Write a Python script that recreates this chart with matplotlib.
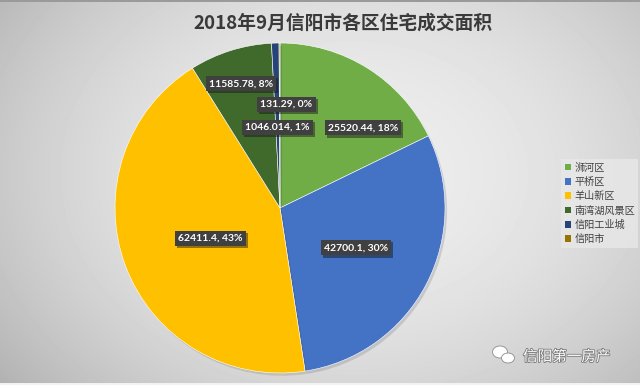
import matplotlib.pyplot as plt
import matplotlib.patheffects as pe
from matplotlib.patches import Patch, Ellipse, Rectangle
import numpy as np

plt.rcParams['font.family'] = ['Noto Sans CJK SC', 'DejaVu Sans']

# data
districts = ['浉河区', '平桥区', '羊山新区', '南湾湖风景区', '信阳工业城', '信阳市']
areas = [25520.44, 42700.1, 62411.4, 11585.78, 1046.014, 131.29]
colors = ['#70AD47', '#4472C4', '#FFC000', '#3F6A2C', '#264478', '#997300']
title = '2018年9月信阳市各区住宅成交面积'

# label placement: radius and angle shift from the wedge middle
label_r = [0.70, 0.52, 0.46, 0.79, 0.49, 0.63]
label_shift = [-14, 0, 3, 0, 0, -3.7]


def round_percent(vals):
    # Excel style: whole percents that add up to 100
    raw = np.array(vals) / sum(vals) * 100
    out = np.floor(raw).astype(int)
    rest = raw - out
    for i in np.argsort(-rest)[:100 - out.sum()]:
        out[i] += 1
    return out


W, H = 640, 385
fig = plt.figure(figsize=(W / 100, H / 100), dpi=100)

# background gradient
bg = fig.add_axes([0, 0, 1, 1])
yy, xx = np.mgrid[0:H, 0:W]
d = ((xx - W * 0.55) / (W * 0.6)) ** 2 + ((yy - H * 0.45) / (H * 0.75)) ** 2
shade = np.clip(0.93 - 0.17 * d, 0, 1)
bg.imshow(shade, cmap='gray', vmin=0, vmax=1, extent=(0, W, H, 0), aspect='auto')
bg.set_xlim(0, W)
bg.set_ylim(H, 0)
bg.axis('off')
bg.add_patch(Rectangle((0, 0), W, 1.5, color='#9a9a9a', lw=0))
bg.add_patch(Rectangle((0, 383), W, 2, color='#f2f2f2', lw=0))

# wechat style signature, bottom right
for (cx, cy, w, h) in [(500, 352, 15, 12), (508, 358, 13, 10)]:
    bg.add_patch(Ellipse((cx, cy), w, h, fc='white', ec='#8c8c8c', lw=0.6))
bg.text(523, 357, '信阳第一房产', fontsize=10.5, color='white', va='center',
        path_effects=[pe.withStroke(linewidth=1.2, foreground='#7a7a7a')])

# pie
cx, cy, R = 280, 208, 165
ax = fig.add_axes([(cx - R) / W, (H - cy - R) / H, 2 * R / W, 2 * R / H])
wedges, _ = ax.pie(areas, colors=colors, startangle=90, counterclock=False,
                   radius=1, wedgeprops=dict(edgecolor='white', linewidth=0.4))
for w in wedges:
    w.set_path_effects([pe.SimplePatchShadow(offset=(1.5, -2), alpha=0.15),
                        pe.Normal()])
ax.set_xlim(-1, 1)
ax.set_ylim(-1, 1)

pcts = round_percent(areas)
for w, v, p, r, s in zip(wedges, areas, pcts, label_r, label_shift):
    mid = np.deg2rad((w.theta1 + w.theta2) / 2 + s)
    t = ax.text(r * np.cos(mid), r * np.sin(mid), f'{v}, {p}%',
                ha='center', va='center', fontsize=7.5, fontweight='bold',
                family='Lato', color='white', zorder=5,
                bbox=dict(boxstyle='square,pad=0.3', fc='#404040', ec='none'))
    t.get_bbox_patch().set_path_effects(
        [pe.SimplePatchShadow(offset=(1.5, -1.5), alpha=0.45), pe.Normal()])

fig.text(343 / W, 1 - 23 / H, title, ha='center', va='center',
         fontsize=13.5, fontweight='bold', color='#3a3a3a')

handles = [Patch(facecolor=c, edgecolor='none') for c in colors]
leg = fig.legend(handles, districts, loc='upper left',
                 bbox_to_anchor=(561 / W, 1 - 159 / H), fontsize=7.3,
                 handlelength=0.65, handleheight=0.65, handletextpad=0.3,
                 labelspacing=0.42, borderpad=0.35, borderaxespad=0,
                 frameon=True, fancybox=False)
leg.get_frame().set_facecolor('#e8e8e8')
leg.get_frame().set_edgecolor('none')
leg.get_frame().set_alpha(0.8)
for txt in leg.get_texts():
    txt.set_color('#404040')

fig.savefig('out.png', dpi=100)
